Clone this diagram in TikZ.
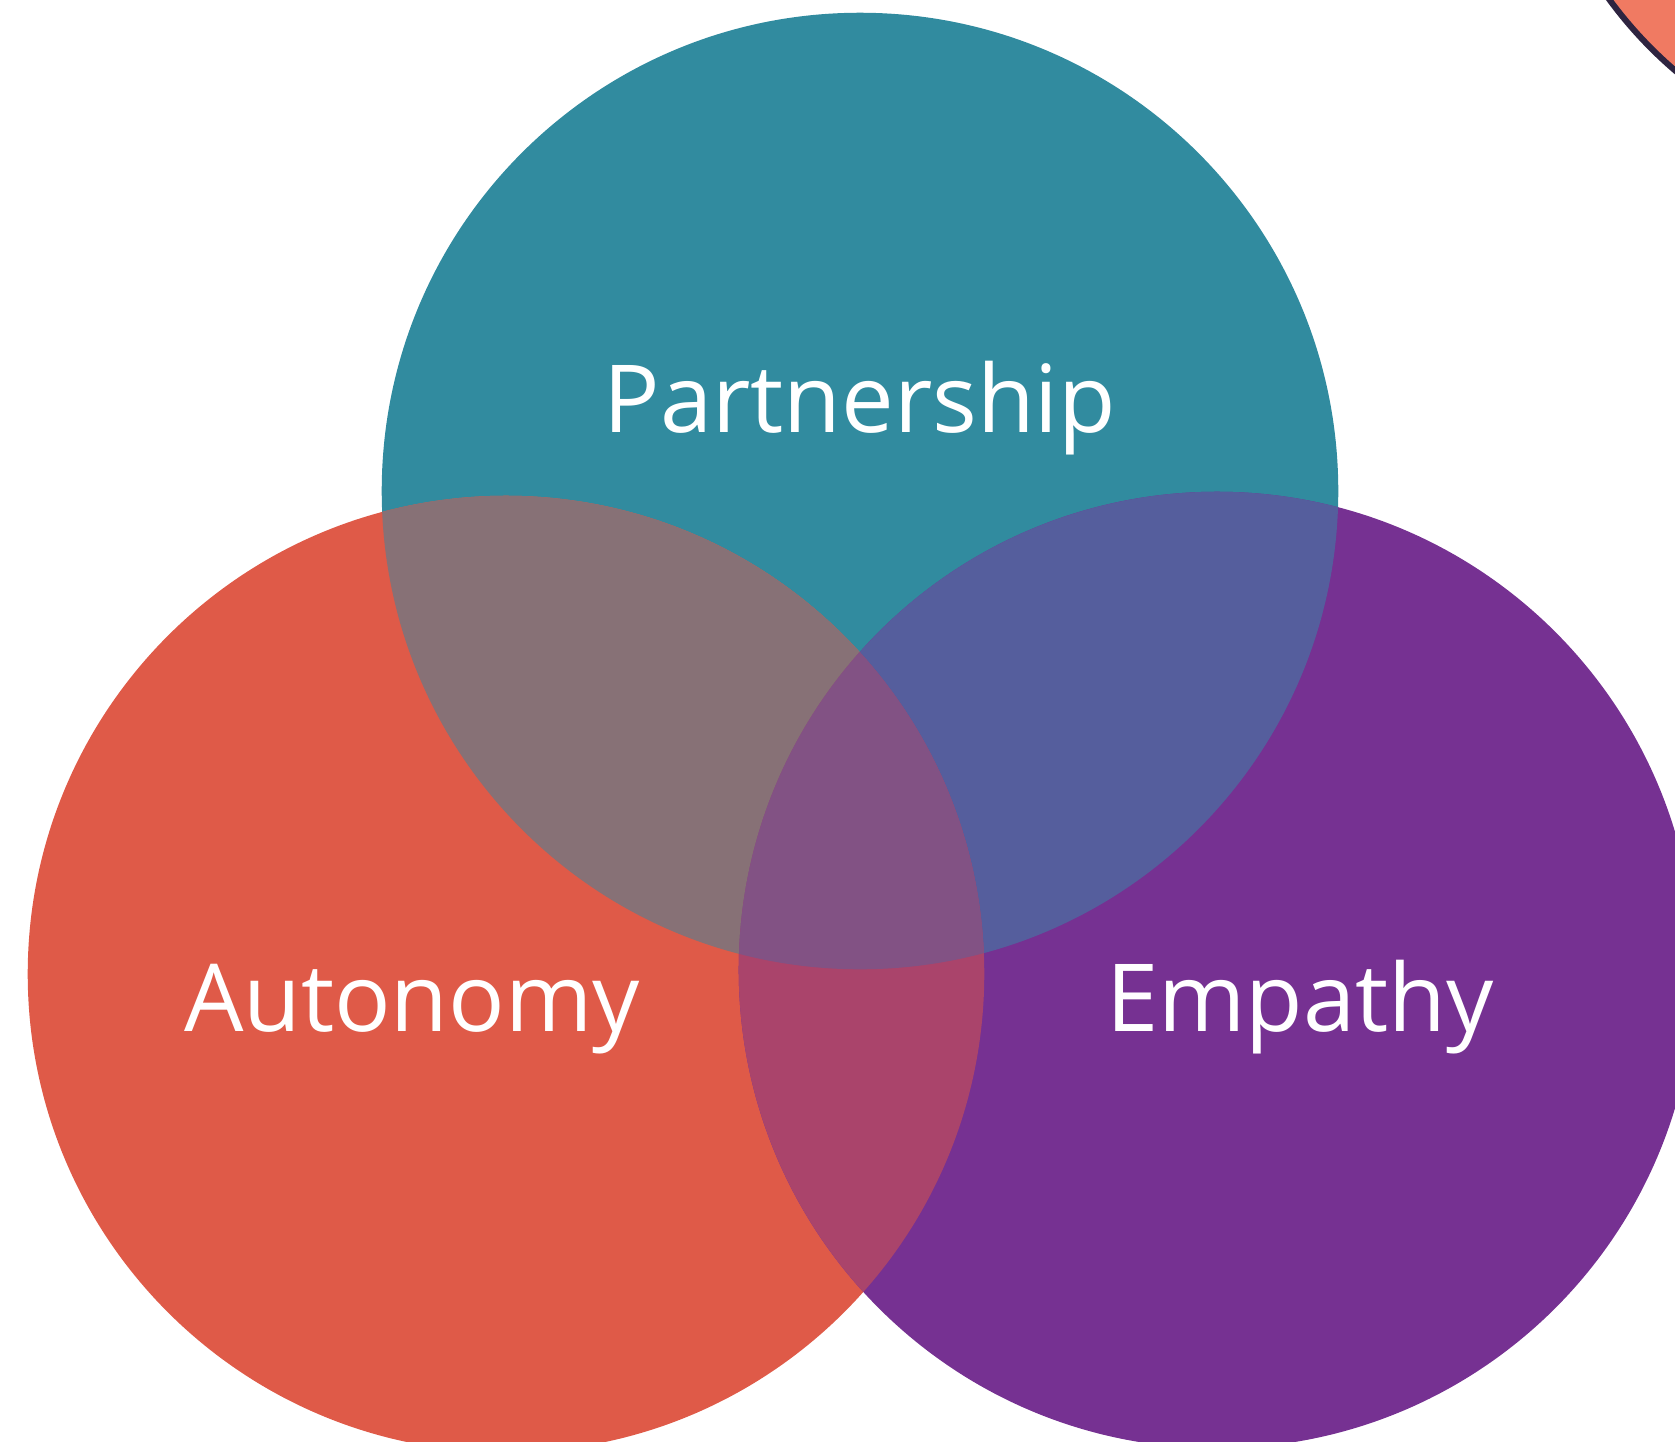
\documentclass[tikz,border=0pt]{standalone}
\usepackage{fontspec}
\setmainfont{Open Sans}
\definecolor{couleurpart}{HTML}{318B9F}
\definecolor{couleurauto}{HTML}{DF5A48}
\definecolor{couleurempa}{HTML}{763192}
\definecolor{couleurpaau}{HTML}{877176}
\definecolor{couleurpaem}{HTML}{555E9D}
\definecolor{couleurauem}{HTML}{AA446B}
\definecolor{couleurtous}{HTML}{825284}
\definecolor{couleurcoin}{HTML}{F07A62}
\definecolor{couleurbord}{HTML}{2E2440}
\newcommand{\intercercle}[3]{\begin{scope} \clip (#1) circle (4.78cm); \fill[#3] (#2) circle (4.78cm); \end{scope}}
\tikzset{
		cercle/.style={circle, minimum size=9.56cm, inner sep=0pt},
		etiquette/.style={text=white, anchor=base, font=\fontsize{26.7}{30}\selectfont}
	}
\begin{document}
\begin{tikzpicture}[x=0.01cm, y=-0.01cm]
		\useasboundingbox (0,0) rectangle (1675,1441);
		\clip (0,0) rectangle (1675,1441);
		% coin en haut a droite
		\fill[couleurcoin, draw=couleurbord, line width=0.06cm] (1950,-250) circle (4.22cm);
		% cercles
		\node[cercle, fill=couleurpart] (partner) at (860,491) {};
		\node[cercle, fill=couleurauto] (autonom) at (506,974) {};
		\node[cercle, fill=couleurempa] (empathy) at (1217,970) {};
		% intersections
		\intercercle{partner}{autonom}{couleurpaau}
		\intercercle{partner}{empathy}{couleurpaem}
		\intercercle{autonom}{empathy}{couleurauem}
		\begin{scope}
			\clip (partner) circle (4.78cm);
			\intercercle{autonom}{empathy}{couleurtous}
		\end{scope}
		% textes
		\node[etiquette] (txtpart) at (860,432) {Partnership};
		\node[etiquette] (txtauto) at (412,1031) {Autonomy};
		\node[etiquette] (txtempa) at (1300,1031) {Empathy};
	\end{tikzpicture}
\end{document}
